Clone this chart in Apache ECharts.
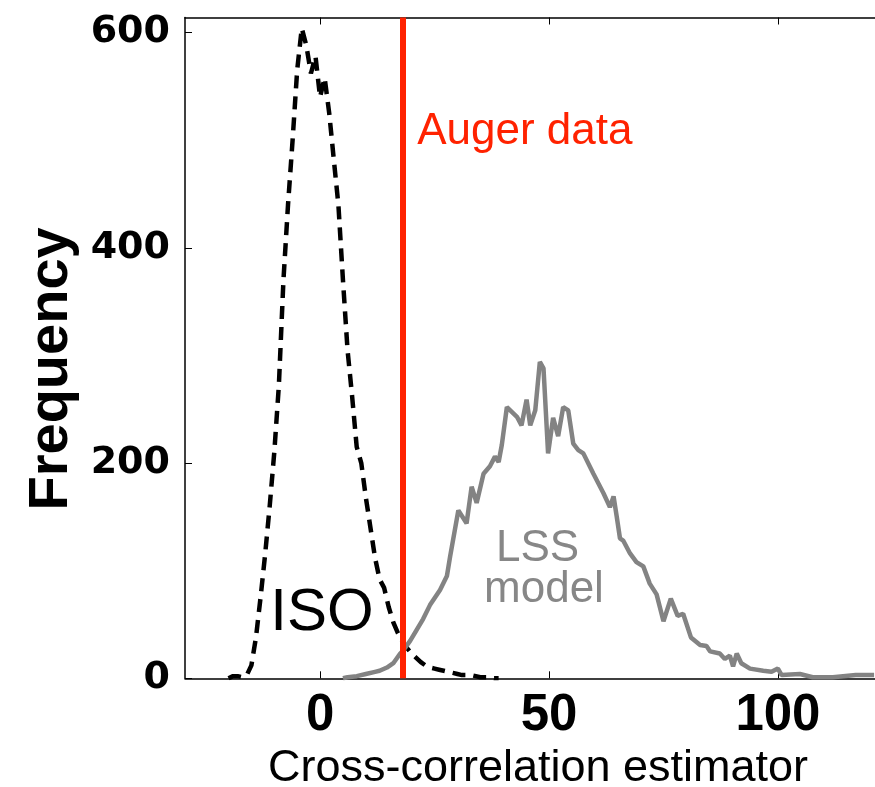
<!DOCTYPE html>
<html><head><meta charset="utf-8">
<script src="https://cdn.jsdelivr.net/npm/echarts@6/dist/echarts.min.js"></script>
<style>html,body{margin:0;padding:0;background:#fff}#c{width:875px;height:787px}</style>
</head><body><div id="c"></div>
<script>
// ISO (isotropic) simulation histogram
const isoX = [-20,-19,-18,-17,-16,-15,-14,-13,-12,-11,-10,-9,-8,-7,-6,-5,-4,-3,-2,-1,0,1,2,3,4,5,6,7,8,9,10,11,12,13,14,15,16,17,18,19,20,21,22,23,24,25,26,27,28,29,30,31,32,33,34,35,36,37,38,39];
const isoY = [0,2,2,1,3,12,38,75,115,160,210,272,370,440,500,565,604,588,562,578,540,558,525,482,440,370,305,262,215,200,168,140,112,92,84,66,52,42,34,28,23,19,15,12,10,9,8,7,6,5,4,3,3,3,2,1,1,1,0,0];
// LSS model histogram
const lssX = [5,6,8,10,12,13,14.6,16,17.5,18.2,19.7,21.1,22.5,24,26.2,27.7,28.4,30.2,32,33.1,34.2,35.7,37.1,38.2,39,39.7,40.8,43,44,45.1,45.9,47,48,48.8,49.8,50.9,52,53.1,54.2,55.3,56.4,57.5,59.7,61.9,63.3,64.1,64.8,65.5,66.2,67.7,69.1,70.6,72,73.5,75,76.6,78.1,79.3,81,83,84.4,85.2,87.3,88.4,89.5,90.2,91,92,93.9,96.8,98.6,100,100.8,104.8,107.6,112,117,121];
const lssY = [0,1,2,4,6,7,10,14,23,26,35,45,55,68,82,95,113,156,144,178,163,190,197,206,201,217,252,243,235,259,235,249,294,288,209,242,225,252,249,218,212,209,190,172,159,169,150,130,128,116,108,104,88,78,53,74,58,60,38,31,30,25,23,18,21,11,23,14,9,7,6,9,3,4,1,1,3,3];
// Auger data value
const augerX = [18];
// ticks
const xTicks = [0, 50, 100];
const yTicks = [0, 200, 400, 600];
const xRange = [-29.5, 121.2];
const yRange = [0, 614];
// annotation texts, anchored in data coordinates
const notes = [
  {text: 'Auger data', x: 21.2, y: 508, color: '#ff2200', size: 44, align: 'left'},
  {text: 'ISO', x: 0.4, y: 60.4, color: '#000000', size: 60, align: 'center'},
  {text: 'LSS', x: 47.5, y: 120, color: '#878787', size: 44, align: 'center'},
  {text: 'model', x: 48.9, y: 82, color: '#878787', size: 44, align: 'center'}
];

const chart = echarts.init(document.getElementById('c'), null, {renderer: 'canvas'});
const axisCommon = {
  type: 'value', min: xRange[0], max: xRange[1],
  splitLine: {show: false},
  axisLine: {show: true, onZero: false, lineStyle: {color: '#000', width: 1.5}},
  axisTick: {show: true, inside: true, length: 7, customValues: xTicks, lineStyle: {color: '#000', width: 1}}
};
chart.setOption({
  animation: false,
  backgroundColor: '#fff',
  grid: {left: 185, right: 0, top: 17.5, bottom: 108.7, containLabel: false, outerBoundsMode: 'none'},
  xAxis: [
    Object.assign({}, axisCommon, {
      position: 'bottom',
      axisLabel: {customValues: xTicks, fontFamily: 'Liberation Sans', fontWeight: 'bold', fontSize: 51, color: '#000', margin: 12},
      name: 'Cross-correlation estimator', nameLocation: 'middle', nameGap: 66,
      nameTextStyle: {fontFamily: 'Liberation Sans', fontSize: 45, color: '#000', padding: [0, 0, 0, 16]}
    }),
    Object.assign({}, axisCommon, {position: 'top', axisLabel: {show: false}})
  ],
  yAxis: {
    type: 'value', min: yRange[0], max: yRange[1],
    splitLine: {show: false},
    axisLine: {show: true, onZero: false, lineStyle: {color: '#000', width: 1.5}},
    axisTick: {show: true, inside: true, length: 7, customValues: yTicks, lineStyle: {color: '#000', width: 1}},
    axisLabel: {customValues: yTicks, fontFamily: 'DejaVu Sans', fontWeight: 'bold', fontSize: 38, color: '#000', margin: 15},
    name: 'Frequency', nameLocation: 'middle', nameGap: 84, nameRotate: 90,
    nameTextStyle: {fontFamily: 'Liberation Sans', fontWeight: 'bold', fontSize: 56, color: '#000', padding: [0, 42, 0, 0]}
  },
  series: [
    {
      type: 'line', name: 'ISO', z: 2, symbol: 'none', showSymbol: false,
      data: isoX.map((x, i) => [x, isoY[i]]),
      lineStyle: {color: '#000', width: 4.5, type: [13, 8]}
    },
    {
      type: 'line', name: 'LSS', z: 3, symbol: 'none', showSymbol: false,
      data: lssX.map((x, i) => [x, lssY[i]]),
      lineStyle: {color: '#838383', width: 4.5}
    },
    {
      type: 'line', name: 'Auger', z: 5, data: [],
      markLine: {
        silent: true, symbol: ['none', 'none'], animation: false,
        label: {show: false},
        lineStyle: {color: '#ff2200', width: 6, type: 'solid'},
        data: augerX.map(v => ({xAxis: v}))
      }
    }
  ]
});
const graphics = notes.map(n => {
  const p = chart.convertToPixel({gridIndex: 0}, [n.x, n.y]);
  return {
    type: 'text', x: p[0], y: p[1], z: 10,
    style: {
      text: n.text, fill: n.color,
      font: 'normal ' + n.size + 'px "Liberation Sans"',
      align: n.align, verticalAlign: 'middle',
      textAlign: n.align, textVerticalAlign: 'middle'
    }
  };
});
chart.setOption({graphic: graphics});
</script>
</body></html>
